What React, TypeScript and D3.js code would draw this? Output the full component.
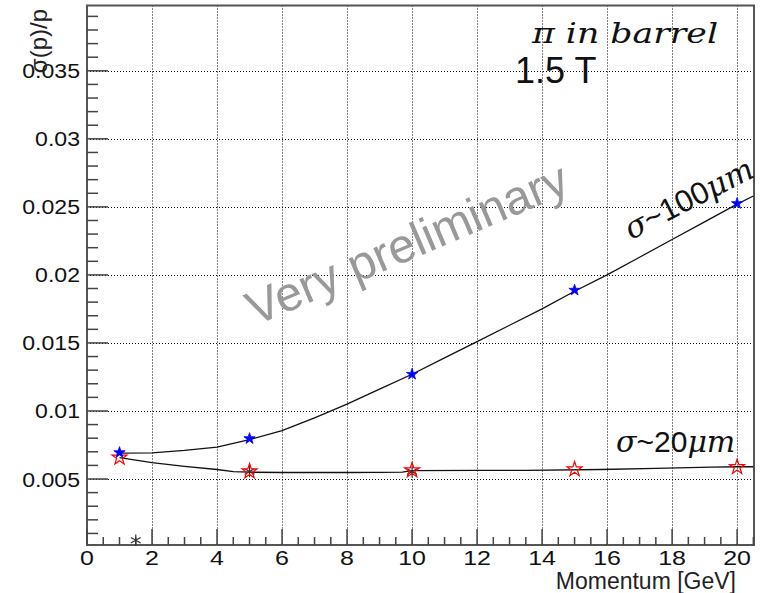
import React, { useRef, useEffect } from "react";
import * as d3 from "d3";

// measured points (momentum in GeV, sigma(p)/p)
const momenta = [1, 5, 10, 15, 20];
const res100 = [0.00694, 0.00797, 0.0127, 0.01888, 0.02525];
const res20 = [0.00657, 0.00556, 0.00564, 0.00571, 0.00588];

// extra asterisk markers seen on the plot
const starX = [1.5, 5, 10];
const starY = [0.0005, 0.00555, 0.00555];

// fit curves
const fit100X = [1, 2, 3, 4, 5, 6, 7, 8, 9, 10, 11, 12, 13, 14, 15, 16, 17, 18, 19, 20, 20.5];
const fit100Y = [0.0069, 0.00692, 0.0071, 0.00735, 0.0079, 0.00855, 0.0095, 0.0105, 0.0116, 0.0127, 0.0139, 0.0151, 0.0163, 0.0175, 0.0188, 0.02, 0.0213, 0.0226, 0.0239, 0.0252, 0.0258];
const fit20X = [1, 2, 3, 4, 4.5, 5, 6, 7, 8, 9, 9.7, 10, 12, 13.5, 15.8, 17.5, 19.2, 20, 20.5];
const fit20Y = [0.00657, 0.0062, 0.00593, 0.0057, 0.00555, 0.0055, 0.00548, 0.00548, 0.00548, 0.00549, 0.0055, 0.00562, 0.00563, 0.00564, 0.0057, 0.00578, 0.00588, 0.0059, 0.0059];

const xTicks = [0, 2, 4, 6, 8, 10, 12, 14, 16, 18, 20];
const yTicks = [0.005, 0.01, 0.015, 0.02, 0.025, 0.03, 0.035];

const W = 765;
const H = 593;
const left = 87;
const right = 754;
const top = 5.5;
const bottom = 545;

const App = () => {
  const svgRef = useRef(null);

  useEffect(() => {
    const svg = d3.select(svgRef.current);
    svgRef.current.querySelectorAll("*").forEach((n) => n.remove());

    const x = d3.scaleLinear().domain([0, 20.52]).range([left, right]);
    const y = d3.scaleLinear().domain([0.00015, 0.0398]).range([bottom, top]);

    const font = "Liberation Sans, Arial, sans-serif";

    // grid
    const grid = svg.append("g").attr("stroke", "#000").attr("stroke-width", 1).attr("stroke-dasharray", "1,2");
    grid.selectAll(".vg").data(xTicks.filter((d) => d > 0)).join("line")
      .attr("x1", (d) => Math.round(x(d)) + 0.5).attr("x2", (d) => Math.round(x(d)) + 0.5)
      .attr("y1", top).attr("y2", bottom);
    grid.selectAll(".hg").data(yTicks).join("line")
      .attr("x1", left).attr("x2", right)
      .attr("y1", (d) => Math.round(y(d)) + 0.5).attr("y2", (d) => Math.round(y(d)) + 0.5);

    // frame
    svg.append("rect")
      .attr("x", left).attr("y", top)
      .attr("width", right - left).attr("height", bottom - top)
      .attr("fill", "none").attr("stroke", "#555").attr("stroke-width", 2);

    // ticks
    const tk = svg.append("g").attr("stroke", "#444").attr("stroke-width", 1.5);
    const xMinor = d3.range(0.5, 20.51, 0.5).filter((d) => d % 2 !== 0);
    tk.selectAll(".xm").data(xMinor).join("line")
      .attr("x1", (d) => x(d)).attr("x2", (d) => x(d))
      .attr("y1", bottom).attr("y2", bottom - 8);
    tk.selectAll(".xM").data(xTicks).join("line")
      .attr("x1", (d) => x(d)).attr("x2", (d) => x(d))
      .attr("y1", bottom).attr("y2", bottom - 16);
    const yMinor = d3.range(1, 40).map((i) => i * 0.001).filter((d) => Math.round(d * 1000) % 5 !== 0);
    tk.selectAll(".ym").data(yMinor).join("line")
      .attr("x1", left).attr("x2", left + 11)
      .attr("y1", (d) => y(d)).attr("y2", (d) => y(d));
    tk.selectAll(".yM").data(yTicks).join("line")
      .attr("x1", left).attr("x2", left + 21)
      .attr("y1", (d) => y(d)).attr("y2", (d) => y(d));

    // tick labels (the original is a bit stretched sideways)
    svg.append("g").selectAll("text").data(xTicks).join("text")
      .attr("transform", (d) => `translate(${x(d)},565) scale(1.25,1)`)
      .attr("text-anchor", "middle")
      .attr("font-family", font).attr("font-size", 20).attr("fill", "#111")
      .text((d) => d);
    svg.append("g").selectAll("text").data(yTicks).join("text")
      .attr("transform", (d) => `translate(80,${y(d) + 7.5}) scale(1.1,1)`)
      .attr("text-anchor", "end")
      .attr("font-family", font).attr("font-size", 21).attr("fill", "#111")
      .text((d) => String(+d.toFixed(3)));

    // axis titles
    svg.append("text")
      .attr("x", 736).attr("y", 589).attr("text-anchor", "end")
      .attr("font-family", font).attr("font-size", 23).attr("fill", "#222")
      .text("Momentum [GeV]");
    svg.append("text")
      .attr("transform", "translate(47,9) rotate(-90)")
      .attr("text-anchor", "end")
      .attr("font-family", font).attr("font-size", 24).attr("fill", "#222")
      .text("σ(p)/p");

    // watermark
    svg.append("text")
      .attr("transform", "translate(255,326) rotate(-23)")
      .attr("font-family", font).attr("font-size", 48).attr("fill", "#999")
      .text("Very preliminary");

    // fit curves
    const line = d3.line().x((d) => x(d[0])).y((d) => y(d[1]));
    svg.append("path")
      .attr("d", line(fit100X.map((v, i) => [v, fit100Y[i]])))
      .attr("fill", "none").attr("stroke", "#111").attr("stroke-width", 1.3);
    svg.append("path")
      .attr("d", line(fit20X.map((v, i) => [v, fit20Y[i]])))
      .attr("fill", "none").attr("stroke", "#111").attr("stroke-width", 1.3);

    // markers
    const aster = (d3 as any).symbolAsterisk || d3.symbolCross;
    svg.append("g").selectAll("path").data(starX.map((v, i) => [v, starY[i]])).join("path")
      .attr("transform", (d) => `translate(${x(d[0])},${y(d[1])})`)
      .attr("d", d3.symbol(aster, 90))
      .attr("fill", "none").attr("stroke", "#333").attr("stroke-width", 1.2);
    svg.append("g").selectAll("path").data(momenta.map((v, i) => [v, res20[i]])).join("path")
      .attr("transform", (d) => `translate(${x(d[0])},${y(d[1])})`)
      .attr("d", d3.symbol(d3.symbolStar, 70))
      .attr("fill", "none").attr("stroke", "#f00").attr("stroke-width", 1.2);
    svg.append("g").selectAll("path").data(momenta.map((v, i) => [v, res100[i]])).join("path")
      .attr("transform", (d) => `translate(${x(d[0])},${y(d[1])})`)
      .attr("d", d3.symbol(d3.symbolStar, 40))
      .attr("fill", "#00f").attr("stroke", "#00f").attr("stroke-width", 0.8);

    // annotations
    const serif = "DejaVu Serif, serif";
    svg.append("text")
      .attr("x", 532).attr("y", 43)
      .attr("font-family", serif).attr("font-style", "italic").attr("font-size", 27).attr("fill", "#111")
      .attr("textLength", 186).attr("lengthAdjust", "spacingAndGlyphs")
      .text("π in barrel");
    svg.append("text")
      .attr("x", 515).attr("y", 83)
      .attr("font-family", font).attr("font-size", 36).attr("fill", "#111")
      .text("1.5 T");

    const s100 = svg.append("text")
      .attr("transform", "translate(631,240) rotate(-27)")
      .attr("font-size", 31).attr("fill", "#111");
    s100.append("tspan").attr("font-family", serif).attr("font-style", "italic").text("σ");
    s100.append("tspan").attr("font-family", font).text("~100");
    s100.append("tspan").attr("font-family", serif).attr("font-style", "italic").text("μm");

    const s20 = svg.append("text")
      .attr("x", 616).attr("y", 452)
      .attr("font-size", 30).attr("fill", "#111");
    s20.append("tspan").attr("font-family", serif).attr("font-style", "italic").text("σ");
    s20.append("tspan").attr("font-family", font).text("~20");
    s20.append("tspan").attr("font-family", serif).attr("font-style", "italic").text("μm");
  }, []);

  return (
    <svg
      ref={svgRef}
      width={W}
      height={H}
      style={{ position: "absolute", left: 0, top: 0, background: "#fff" }}
    />
  );
};

export default App;
